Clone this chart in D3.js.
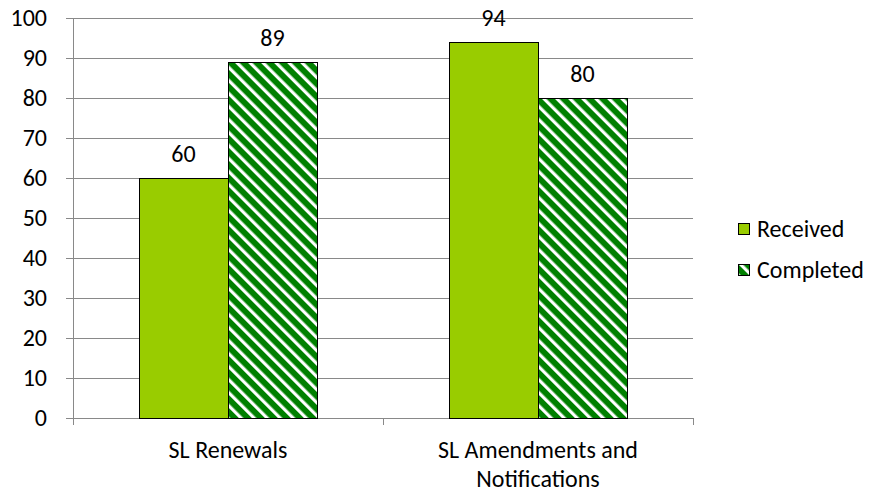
<!DOCTYPE html>
<html>
<head>
<meta charset="utf-8">
<script src="https://cdn.jsdelivr.net/npm/d3@7"></script>
<style>
  body { margin: 0; background: #fff; }
  text { font-family: Carlito, Lato, 'Open Sans', sans-serif; fill: #000; }
</style>
</head>
<body>
<svg id="chart" width="873" height="492"></svg>
<script>
const categories = ['SL Renewals', 'SL Amendments and|Notifications']
const series = ['Received', 'Completed']
const received = [60, 94]
const completed = [89, 80]
const yTicks = [0, 10, 20, 30, 40, 50, 60, 70, 80, 90, 100]

const svg = d3.select('#chart')
const margin = { left: 73, top: 18, right: 180, bottom: 74 }
const width = 873 - margin.left - margin.right
const height = 492 - margin.top - margin.bottom
const fontSize = '24px'

// striped fill for the "Completed" series
const defs = svg.append('defs')
const pat = defs.append('pattern')
  .attr('id', 'stripes')
  .attr('patternUnits', 'userSpaceOnUse')
  .attr('width', 9.2)
  .attr('height', 9.2)
  .attr('patternTransform', 'rotate(-45)')
pat.append('rect').attr('width', 9.2).attr('height', 9.2).attr('fill', '#008000')
pat.append('rect').attr('x', 0).attr('width', 3.2).attr('height', 9.2).attr('fill', '#ffffff')

const g = svg.append('g').attr('transform', 'translate(' + margin.left + ',' + margin.top + ')')

const x0 = d3.scaleBand().domain(categories).range([0, width])
const x1 = d3.scaleBand().domain(series).range([0, x0.bandwidth()]).paddingOuter(0.742).paddingInner(0)
const y = d3.scaleLinear().domain([0, 100]).range([height, 0])

// gridlines
g.append('g')
  .selectAll('line')
  .data(yTicks.slice(1))
  .enter().append('line')
  .attr('x1', 0).attr('x2', width)
  .attr('y1', d => y(d) + 0.5).attr('y2', d => y(d) + 0.5)
  .attr('stroke', '#898989')
  .attr('stroke-width', 1)

// y axis
const yAxis = g.append('g')
  .call(d3.axisLeft(y).tickValues(yTicks).tickSize(7).tickPadding(19))
yAxis.select('.domain').attr('stroke', '#898989').attr('d', 'M0.5,' + height + 'V0')
yAxis.selectAll('.tick line').attr('stroke', '#898989')
yAxis.selectAll('.tick text').style('font-size', fontSize).attr('fill', '#000')
  .attr('font-family', null)

// x axis
const xAxis = g.append('g').attr('transform', 'translate(0,' + height + ')')
xAxis.append('line').attr('x1', 0).attr('x2', width).attr('y1', 0.5).attr('y2', 0.5).attr('stroke', '#898989')
xAxis.selectAll('line.cat')
  .data([0, 1, 2])
  .enter().append('line')
  .attr('class', 'cat')
  .attr('x1', d => d * x0.bandwidth() + 0.5).attr('x2', d => d * x0.bandwidth() + 0.5)
  .attr('y1', 0).attr('y2', 7)
  .attr('stroke', '#898989')
xAxis.selectAll('text.cat')
  .data(categories)
  .enter().append('text')
  .attr('class', 'cat')
  .attr('text-anchor', 'middle')
  .attr('x', d => x0(d) + x0.bandwidth() / 2)
  .attr('y', 40)
  .style('font-size', fontSize)
  .each(function (d) {
    const parts = d.split('|')
    d3.select(this).selectAll('tspan')
      .data(parts)
      .enter().append('tspan')
      .attr('x', x0(d) + x0.bandwidth() / 2)
      .attr('dy', (p, i) => i === 0 ? 0 : 29)
      .text(p => p)
  })

// bars
const data = categories.map((c, i) => ({ cat: c, vals: [
  { s: 'Received', v: received[i] },
  { s: 'Completed', v: completed[i] }
] }))

const groups = g.selectAll('g.grp')
  .data(data)
  .enter().append('g')
  .attr('class', 'grp')
  .attr('transform', d => 'translate(' + x0(d.cat) + ',0)')

groups.selectAll('rect')
  .data(d => d.vals)
  .enter().append('rect')
  .attr('x', d => Math.round(x1(d.s)) + 0.5)
  .attr('y', d => y(d.v) + 0.5)
  .attr('width', Math.round(x1.bandwidth()))
  .attr('height', d => height - y(d.v))
  .attr('fill', d => d.s === 'Received' ? '#99cc00' : 'url(#stripes)')
  .attr('stroke', '#000')
  .attr('stroke-width', 1)

groups.selectAll('text.lbl')
  .data(d => d.vals)
  .enter().append('text')
  .attr('class', 'lbl')
  .attr('text-anchor', 'middle')
  .attr('x', d => x1(d.s) + x1.bandwidth() / 2)
  .attr('y', d => y(d.v) - 16)
  .style('font-size', fontSize)
  .text(d => d.v)

// legend
const legend = svg.append('g').attr('transform', 'translate(738,223)')
const items = legend.selectAll('g')
  .data(series)
  .enter().append('g')
  .attr('transform', (d, i) => 'translate(0,' + i * 41 + ')')
items.append('rect')
  .attr('x', 0.5).attr('y', 0.5)
  .attr('width', 11).attr('height', 11)
  .attr('fill', d => d === 'Received' ? '#99cc00' : 'url(#stripes)')
  .attr('stroke', '#000')
items.append('text')
  .attr('x', 19)
  .attr('y', 14)
  .style('font-size', fontSize)
  .text(d => d)
</script>
</body>
</html>
